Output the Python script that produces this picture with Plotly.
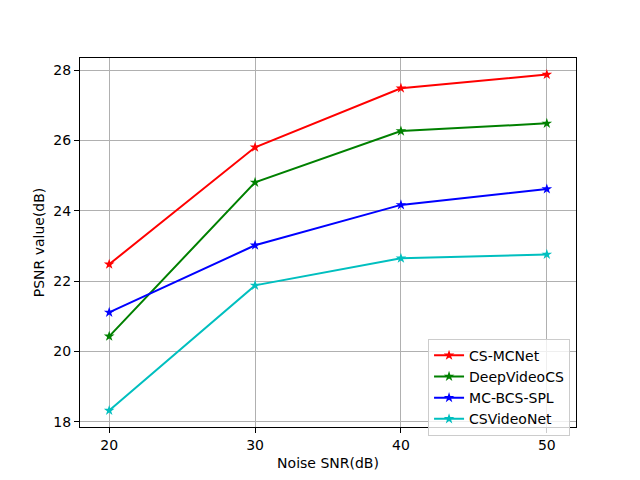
import plotly.graph_objects as go

snr = [20, 30, 40, 50]
cs_mcnet = [22.48, 25.81, 27.49, 27.88]
deepvideocs = [20.43, 24.81, 26.27, 26.49]
mc_bcs_spl = [21.11, 23.02, 24.17, 24.62]
csvideonet = [18.32, 21.88, 22.65, 22.76]

series = [
    ("CS-MCNet", cs_mcnet, "#ff0000"),
    ("DeepVideoCS", deepvideocs, "#008000"),
    ("MC-BCS-SPL", mc_bcs_spl, "#0000ff"),
    ("CSVideoNet", csvideonet, "#00bfbf"),
]

x_ticks = [20, 30, 40, 50]
y_ticks = [18, 20, 22, 24, 26, 28]

fig = go.Figure()
for name, vals, color in series:
    fig.add_trace(go.Scatter(
        x=snr, y=vals, name=name, mode="lines+markers",
        line=dict(color=color, width=2),
        marker=dict(symbol="star", size=8, color=color, line=dict(width=0)),
    ))

font = "DejaVu Sans, sans-serif"
# page body has an 8px offset, so margins are reduced by 8px on left/top
fig.update_layout(
    width=640, height=480,
    margin=dict(l=72, r=72, t=50, b=61),
    paper_bgcolor="white", plot_bgcolor="white",
    font=dict(family=font, size=14, color="black"),
    showlegend=True,
    legend=dict(
        x=0.988, y=0.108, xanchor="right", yanchor="middle",
        bgcolor="rgba(255,255,255,0.8)", bordercolor="#cccccc", borderwidth=1,
        font=dict(family=font, size=14, color="black"),
        tracegroupgap=0, itemwidth=30,
    ),
)
fig.update_xaxes(
    range=[18, 52], tickvals=x_ticks, ticktext=[str(v) for v in x_ticks],
    automargin=False,
    showline=True, linecolor="black", linewidth=1, mirror=True,
    ticks="outside", ticklen=5, tickcolor="black", tickwidth=1,
    showgrid=True, gridcolor="#b0b0b0", gridwidth=1, zeroline=False,
    title=dict(text="Noise SNR(dB)", standoff=6, font=dict(size=14)),
)
fig.update_yaxes(
    range=[17.85, 28.35], tickvals=y_ticks, ticktext=[str(v) for v in y_ticks],
    automargin=False,
    showline=True, linecolor="black", linewidth=1, mirror=True,
    ticks="outside", ticklen=5, tickcolor="black", tickwidth=1,
    showgrid=True, gridcolor="#b0b0b0", gridwidth=1, zeroline=False,
    title=dict(text="PSNR value(dB)", standoff=5, font=dict(size=14)),
)

fig.write_html("out.html")
